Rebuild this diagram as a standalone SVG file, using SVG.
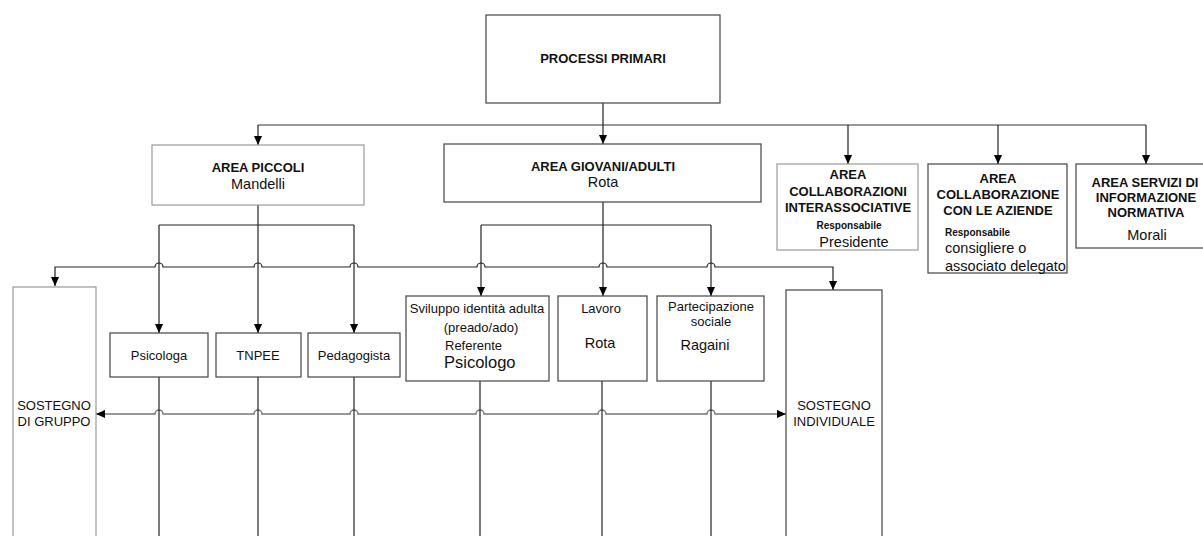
<svg xmlns="http://www.w3.org/2000/svg" width="1203" height="536" viewBox="0 0 1203 536">
<style>
text{font-family:"Liberation Sans",Arial,sans-serif;fill:#111;}
.b{font-weight:bold;font-size:13px;}
.r{font-size:13px;}
.m{font-size:14.5px;}
.s{font-weight:bold;font-size:10px;}
.c{text-anchor:middle;}
.box{fill:#fff;stroke:#444;stroke-width:1.2;}
.lbox{fill:#fff;stroke:#999;stroke-width:1.2;}
.ln{fill:none;stroke:#222;stroke-width:1.2;}
.gl{fill:none;stroke:#777;stroke-width:1.5;}
</style>
<defs>
<marker id="ah" viewBox="0 0 10 10" refX="10" refY="5" markerWidth="9" markerHeight="9" markerUnits="userSpaceOnUse" orient="auto-start-reverse"><path d="M0,0.5 L10,5 L0,9.5 z" fill="#000"/></marker>
</defs>
<rect width="1203" height="536" fill="#fff"/>

<g id="connectors">
<path class="gl" d="M258,125 H1146"/>
<path class="ln" d="M603,103 V144" marker-end="url(#ah)"/>
<path class="ln" d="M258,125 V145" marker-end="url(#ah)"/>
<path class="ln" d="M848,125 V164" marker-end="url(#ah)"/>
<path class="ln" d="M998,125 V164" marker-end="url(#ah)"/>
<path class="ln" d="M1146,125 V164" marker-end="url(#ah)"/>
<path class="ln" d="M258,205 V333" marker-end="url(#ah)"/>
<path class="ln" d="M159,225 H354"/>
<path class="ln" d="M159,225 V333" marker-end="url(#ah)"/>
<path class="ln" d="M354,225 V333" marker-end="url(#ah)"/>
<path class="ln" d="M603,202 V296" marker-end="url(#ah)"/>
<path class="ln" d="M481,225 H711"/>
<path class="ln" d="M481,225 V296" marker-end="url(#ah)"/>
<path class="ln" d="M711,225 V296" marker-end="url(#ah)"/>
<path class="ln" d="M55,286 V267 H155 a4,4 0 0 1 8,0 H254 a4,4 0 0 1 8,0 H350 a4,4 0 0 1 8,0 H477 a4,4 0 0 1 8,0 H599 a4,4 0 0 1 8,0 H707 a4,4 0 0 1 8,0 H833 V290" marker-start="url(#ah)" marker-end="url(#ah)"/>
<path class="gl" d="M96,414 H155 a4,4 0 0 1 8,0 H254 a4,4 0 0 1 8,0 H350 a4,4 0 0 1 8,0 H476 a4,4 0 0 1 8,0 H598 a4,4 0 0 1 8,0 H707 a4,4 0 0 1 8,0 H786" marker-start="url(#ah)" marker-end="url(#ah)"/>
<path class="ln" d="M159,377 V536"/>
<path class="ln" d="M258,377 V536"/>
<path class="ln" d="M354,377 V536"/>
<path class="ln" d="M480,381 V536"/>
<path class="ln" d="M602,381 V536"/>
<path class="ln" d="M711,381 V536"/>
</g>

<g id="processi-primari">
<rect class="box" x="486" y="15" width="234" height="88"/>
<text class="b c" x="603" y="63">PROCESSI PRIMARI</text>
</g>

<g id="area-piccoli">
<rect class="lbox" x="152" y="145" width="212" height="60"/>
<text class="b c" x="258" y="172">AREA PICCOLI</text>
<text class="m c" x="258" y="189">Mandelli</text>
</g>

<g id="area-giovani">
<rect class="box" x="444" y="144" width="317" height="58"/>
<text class="b c" x="603" y="171">AREA GIOVANI/ADULTI</text>
<text class="m c" x="603" y="187">Rota</text>
</g>

<g id="area-interassociative">
<rect class="lbox" x="777" y="164" width="141" height="86"/>
<text class="b c" x="848" y="179">AREA</text>
<text class="b c" x="848" y="196">COLLABORAZIONI</text>
<text class="b c" x="848" y="212">INTERASSOCIATIVE</text>
<text class="s c" x="849" y="229">Responsabile</text>
<text class="m c" x="854" y="247">Presidente</text>
</g>

<g id="area-aziende">
<rect class="box" x="928" y="164" width="139" height="109"/>
<text class="b c" x="998" y="183">AREA</text>
<text class="b c" x="998" y="199">COLLABORAZIONE</text>
<text class="b c" x="998" y="215">CON LE AZIENDE</text>
<text class="s" x="945" y="236">Responsabile</text>
<text class="m" x="945" y="253">consigliere o</text>
<text class="m" x="945" y="271">associato delegato</text>
</g>

<g id="area-servizi">
<rect class="box" x="1076" y="164" width="135" height="84"/>
<text class="b c" x="1145" y="187">AREA SERVIZI DI</text>
<text class="b c" x="1146" y="202">INFORMAZIONE</text>
<text class="b c" x="1146" y="217">NORMATIVA</text>
<text class="m c" x="1147" y="240">Morali</text>
</g>

<g id="sostegno-gruppo">
<rect class="lbox" x="13" y="287" width="83" height="260"/>
<text class="r c" x="54" y="410">SOSTEGNO</text>
<text class="r c" x="54" y="426">DI GRUPPO</text>
</g>

<g id="psicologa">
<rect class="box" x="110" y="333" width="98" height="44"/>
<text class="r c" x="159" y="360">Psicologa</text>
</g>

<g id="tnpee">
<rect class="box" x="216" y="333" width="85" height="44"/>
<text class="r c" x="258" y="360">TNPEE</text>
</g>

<g id="pedagogista">
<rect class="box" x="308" y="333" width="92" height="44"/>
<text class="r c" x="354" y="360">Pedagogista</text>
</g>

<g id="sviluppo">
<rect class="box" x="406" y="296" width="143" height="85"/>
<text class="r c" x="477" y="313">Sviluppo identità adulta</text>
<text class="r c" x="481" y="332">(preado/ado)</text>
<text class="r" x="445" y="350">Referente</text>
<text x="444" y="368" style="font-size:16.5px">Psicologo</text>
</g>

<g id="lavoro">
<rect class="box" x="558" y="296" width="89" height="85"/>
<text class="r c" x="601" y="313">Lavoro</text>
<text class="m c" x="600" y="348">Rota</text>
</g>

<g id="partecipazione">
<rect class="box" x="657" y="296" width="107" height="85"/>
<text class="r c" x="711" y="311">Partecipazione</text>
<text class="r c" x="711" y="326">sociale</text>
<text class="m c" x="705" y="350">Ragaini</text>
</g>

<g id="sostegno-individuale">
<rect class="box" x="786" y="290" width="96" height="260"/>
<text class="r c" x="834" y="410">SOSTEGNO</text>
<text class="r c" x="834" y="426">INDIVIDUALE</text>
</g>
</svg>
